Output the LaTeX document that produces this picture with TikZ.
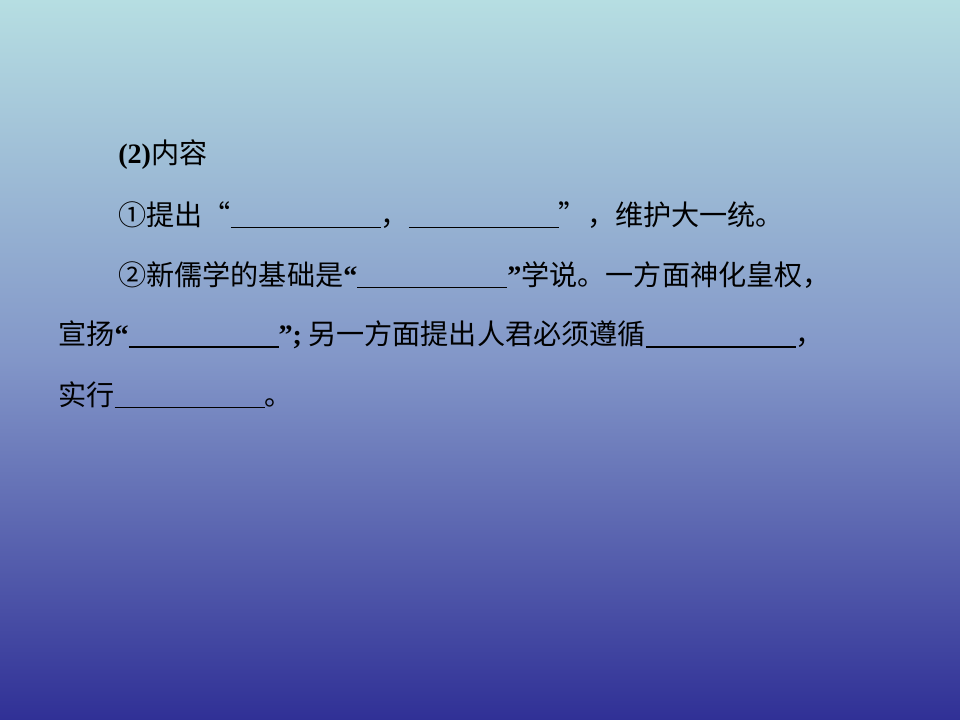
\documentclass[tikz,border=0pt]{standalone}
\usepackage{fontspec}
\setmainfont{Liberation Serif}
\newfontfamily\cjk{Noto Sans CJK SC}
\tikzset{
  linetext/.style={anchor=west, inner sep=0pt, font=\fontsize{20}{24}\selectfont\cjk}
}
\newcommand{\blank}{\rule[-2pt]{3.75cm}{0.8pt}}
\newcommand{\num}[1]{{\fontspec{Liberation Serif}\bfseries #1}}
\newcommand{\openq}{{\fontspec{Liberation Serif}\bfseries “}}
\newcommand{\closeq}{{\fontspec{Liberation Serif}\bfseries ”}}
\begin{document}
\begin{tikzpicture}[x=0.025cm,y=-0.025cm]
  \definecolor{slidetop}{RGB}{182,222,226}
  \definecolor{slidemid}{RGB}{130,150,200}
  \definecolor{slidebot}{RGB}{48,48,150}
  \shade[top color=slidetop, bottom color=slidebot, middle color=slidemid] (0,0) rectangle (960,720);
  \useasboundingbox (0,0) rectangle (960,720);
  \node[linetext] (l1) at (118,155) {\num{(2)}内容};
  \node[linetext] (l2) at (118,215) {①提出“\blank，\blank”，维护大一统。};
  \node[linetext] (l3) at (118,275) {②新儒学的基础是\openq\blank\closeq 学说。一方面神化皇权，};
  \node[linetext] (l4) at (58,335) {宣扬\openq\blank\closeq{\fontspec{Liberation Serif}\bfseries ;} 另一方面提出人君必须遵循\blank，};
  \node[linetext] (l5) at (58,395) {实行\blank。};
\end{tikzpicture}
\end{document}
